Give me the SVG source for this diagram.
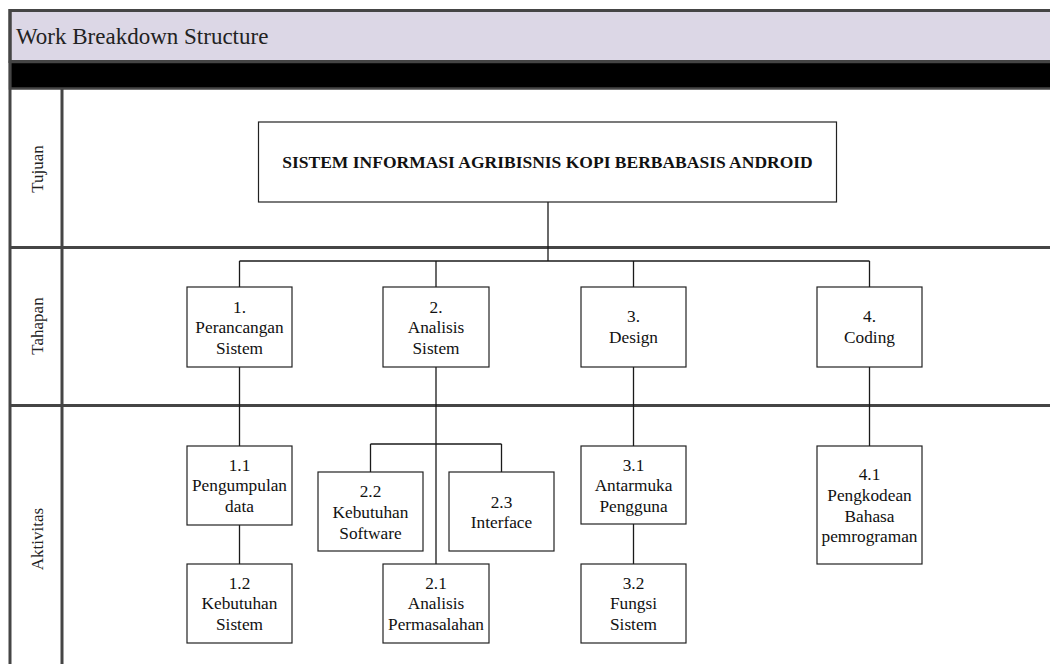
<svg xmlns="http://www.w3.org/2000/svg" width="1050" height="664" viewBox="0 0 1050 664">
<style>
.lane{stroke:#454545;stroke-width:3;fill:none}
.box{fill:#fff;stroke:#222;stroke-width:1.2}
.t{font-family:"Liberation Serif","Times New Roman",serif;font-size:17.3px;fill:#111;text-anchor:middle}
.lbl{font-family:"Liberation Serif","Times New Roman",serif;font-size:17px;fill:#222;text-anchor:middle}
.c{stroke:#1a1a1a;stroke-width:1.3;fill:none}
</style>
<rect width="1050" height="664" fill="#fff"/>
<g id="frame">
<rect x="10" y="10.5" width="1050" height="51" fill="#dcd7e6" stroke="#454545" stroke-width="3"/>
<rect x="10" y="62" width="1050" height="26.5" fill="#000" stroke="#454545" stroke-width="2.5"/>
<line class="lane" x1="10" y1="9" x2="10" y2="664"/>
<line class="lane" x1="62" y1="89" x2="62" y2="664"/>
<line class="lane" x1="10" y1="247.5" x2="1050" y2="247.5"/>
<line class="lane" x1="10" y1="405.5" x2="1050" y2="405.5"/>
<text x="16" y="43.5" style="font-family:'Liberation Serif','Times New Roman',serif;font-size:23px;fill:#222">Work Breakdown Structure</text>
<text class="lbl" transform="translate(42.5,169) rotate(-90)">Tujuan</text>
<text class="lbl" transform="translate(42.5,326) rotate(-90)">Tahapan</text>
<text class="lbl" transform="translate(42.5,539) rotate(-90)">Aktivitas</text>
</g>
<g id="connectors">
<line class="c" x1="548" y1="202" x2="548" y2="261"/>
<line class="c" x1="239.5" y1="261" x2="869.5" y2="261"/>
<line class="c" x1="239.5" y1="261" x2="239.5" y2="287"/>
<line class="c" x1="436" y1="261" x2="436" y2="287"/>
<line class="c" x1="633.5" y1="261" x2="633.5" y2="287"/>
<line class="c" x1="869.5" y1="261" x2="869.5" y2="287"/>
<line class="c" x1="239.5" y1="367" x2="239.5" y2="446"/>
<line class="c" x1="239.5" y1="525" x2="239.5" y2="564"/>
<line class="c" x1="436" y1="367" x2="436" y2="564"/>
<line class="c" x1="370.5" y1="444" x2="501.5" y2="444"/>
<line class="c" x1="370.5" y1="444" x2="370.5" y2="472"/>
<line class="c" x1="501.5" y1="444" x2="501.5" y2="472"/>
<line class="c" x1="633.5" y1="367" x2="633.5" y2="446"/>
<line class="c" x1="633.5" y1="524" x2="633.5" y2="564"/>
<line class="c" x1="869.5" y1="367" x2="869.5" y2="446"/>
</g>
<g id="root">
<rect class="box" x="258.5" y="122" width="578" height="80"/>
<text x="547.5" y="168" style="font-family:'Liberation Serif','Times New Roman',serif;font-size:17.5px;font-weight:bold;fill:#111;text-anchor:middle">SISTEM INFORMASI AGRIBISNIS KOPI BERBABASIS ANDROID</text>
</g>
<g id="n1">
<rect class="box" x="187" y="287" width="105" height="80"/>
<text class="t" x="239.5" y="312.5">1.</text>
<text class="t" x="239.5" y="333.3">Perancangan</text>
<text class="t" x="239.5" y="354">Sistem</text>
</g>
<g id="n2">
<rect class="box" x="383" y="287" width="106" height="80"/>
<text class="t" x="436" y="312.5">2.</text>
<text class="t" x="436" y="333.3">Analisis</text>
<text class="t" x="436" y="354">Sistem</text>
</g>
<g id="n3">
<rect class="box" x="581" y="287" width="105" height="80"/>
<text class="t" x="633.5" y="322">3.</text>
<text class="t" x="633.5" y="342.7">Design</text>
</g>
<g id="n4">
<rect class="box" x="817" y="287" width="105" height="80"/>
<text class="t" x="869.5" y="322">4.</text>
<text class="t" x="869.5" y="342.7">Coding</text>
</g>
<g id="n1_1">
<rect class="box" x="187" y="446" width="105" height="79"/>
<text class="t" x="239.5" y="470.5">1.1</text>
<text class="t" x="239.5" y="491.3">Pengumpulan</text>
<text class="t" x="239.5" y="512">data</text>
</g>
<g id="n1_2">
<rect class="box" x="187" y="564" width="105" height="79"/>
<text class="t" x="239.5" y="588.5">1.2</text>
<text class="t" x="239.5" y="609.3">Kebutuhan</text>
<text class="t" x="239.5" y="630">Sistem</text>
</g>
<g id="n2_2">
<rect class="box" x="318" y="472" width="105" height="79"/>
<text class="t" x="370.5" y="497">2.2</text>
<text class="t" x="370.5" y="517.8">Kebutuhan</text>
<text class="t" x="370.5" y="538.5">Software</text>
</g>
<g id="n2_3">
<rect class="box" x="449" y="472" width="105" height="79"/>
<text class="t" x="501.5" y="507.5">2.3</text>
<text class="t" x="501.5" y="528.3">Interface</text>
</g>
<g id="n2_1">
<rect class="box" x="383" y="564" width="106" height="79"/>
<text class="t" x="436" y="588.5">2.1</text>
<text class="t" x="436" y="609.3">Analisis</text>
<text class="t" x="436" y="630">Permasalahan</text>
</g>
<g id="n3_1">
<rect class="box" x="581" y="446" width="105" height="78"/>
<text class="t" x="633.5" y="470.5">3.1</text>
<text class="t" x="633.5" y="491.3">Antarmuka</text>
<text class="t" x="633.5" y="512">Pengguna</text>
</g>
<g id="n3_2">
<rect class="box" x="581" y="564" width="105" height="79"/>
<text class="t" x="633.5" y="588.5">3.2</text>
<text class="t" x="633.5" y="609.3">Fungsi</text>
<text class="t" x="633.5" y="630">Sistem</text>
</g>
<g id="n4_1">
<rect class="box" x="817" y="446" width="105" height="118"/>
<text class="t" x="869.5" y="480">4.1</text>
<text class="t" x="869.5" y="500.8">Pengkodean</text>
<text class="t" x="869.5" y="521.5">Bahasa</text>
<text class="t" x="869.5" y="542.3">pemrograman</text>
</g>
</svg>
